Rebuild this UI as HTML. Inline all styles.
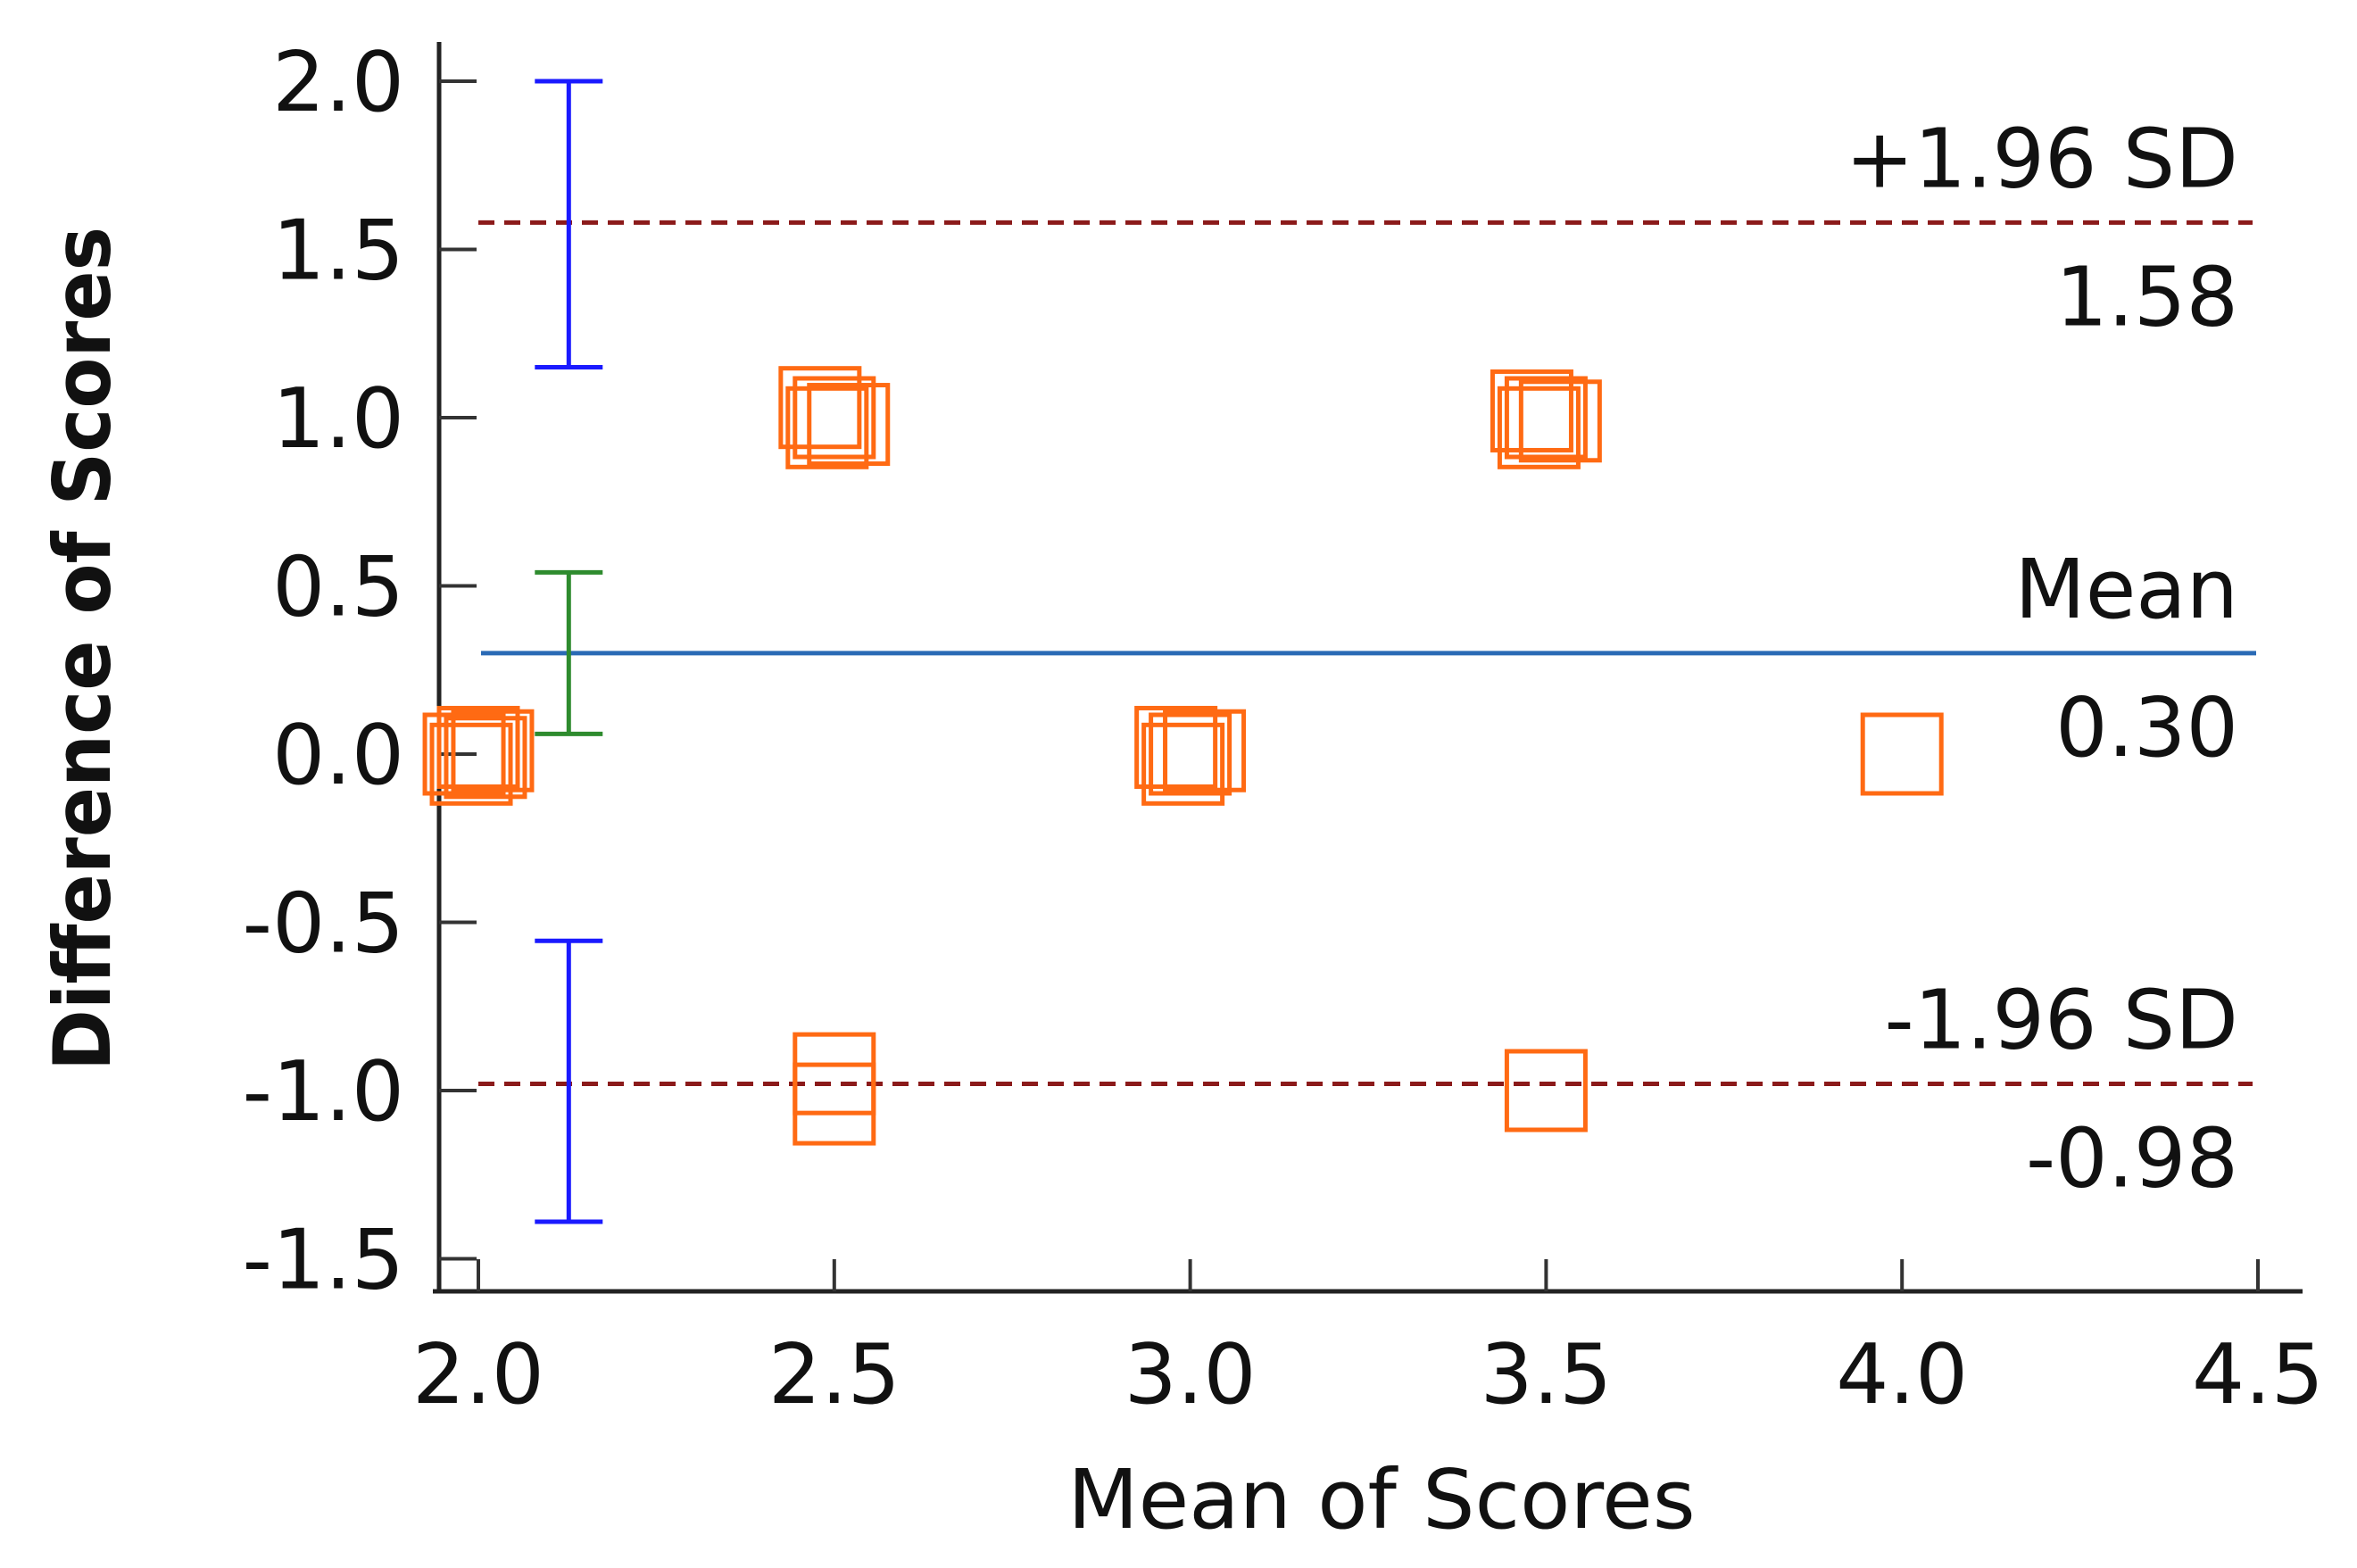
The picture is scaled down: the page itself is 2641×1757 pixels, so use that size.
<!DOCTYPE html>
<html><head><meta charset="utf-8">
<style>
html,body{margin:0;padding:0;background:#fff;}
svg{display:block;}
text{font-family:"DejaVu Sans","Liberation Sans",sans-serif;fill:#111;}
</style></head>
<body>
<svg id="chart" width="2641" height="1757" viewBox="0 0 2641 1757" xmlns="http://www.w3.org/2000/svg">
<rect width="2641" height="1757" fill="#fff"/>
<g id="axes"></g>
<g id="lines"></g>
<g id="bars"></g>
<g id="pts"></g>
<g id="labels"></g>
</svg>
<script>
const xTicks = [2.0, 2.5, 3.0, 3.5, 4.0, 4.5];
const xTickLabels = ["2.0","2.5","3.0","3.5","4.0","4.5"];
const yTicks = [2.0, 1.5, 1.0, 0.5, 0.0, -0.5, -1.0, -1.5];
const yTickLabels = ["2.0","1.5","1.0","0.5","0.0","-0.5","-1.0","-1.5"];
const pointX = [1.98,2.0,2.02,1.99,2.01, 2.48,2.5,2.52,2.49, 3.48,3.5,3.52,3.49, 2.98,3.0,3.02,2.99, 4.0, 2.5,2.5, 3.5];
const pointY = [0.0,0.02,0.01,-0.03,-0.01, 1.03,1.0,0.98,0.97, 1.02,1.0,0.99,0.97, 0.02,0.0,0.01,-0.03, 0.0, -0.95,-1.04, -1.0];
const meanDiff = 0.30;
const upperLoA = 1.58;
const lowerLoA = -0.98;
const ciX = 2.127;
const ciLow = [1.15, 0.06, -1.39];
const ciHigh = [2.0, 0.54, -0.555];
const ciNames = ["upper-loa-ci","mean-ci","lower-loa-ci"];
const ciColors = ["#1a1aff","#2e8b2e","#1a1aff"];

const NS="http://www.w3.org/2000/svg";
function X(v){return 536+(v-2.0)*797.6;}
function Y(v){return 91+(2.0-v)*377;}
function mk(tag,attrs,parent,txt){const e=document.createElementNS(NS,tag);for(const k in attrs)e.setAttribute(k,attrs[k]);if(txt!==undefined)e.textContent=txt;parent.appendChild(e);return e;}
const axes=document.getElementById('axes'),lines=document.getElementById('lines'),bars=document.getElementById('bars'),pts=document.getElementById('pts'),labels=document.getElementById('labels');
const AX=492, AY=1447;
let e;
e=mk('line',{x1:AX,y1:47,x2:AX,y2:AY,stroke:'#222','stroke-width':5},axes);


e=mk('line',{x1:485,y1:AY,x2:2580,y2:AY,stroke:'#222','stroke-width':5},axes);


yTicks.forEach((v,i)=>{
  const t=mk('line',{x1:AX,y1:Y(v),x2:AX+42,y2:Y(v),stroke:'#333','stroke-width':4},axes);
  
  
  const l=mk('text',{x:453,y:Y(v)+33,'text-anchor':'end','font-size':93},axes,yTickLabels[i]);
  
  
});
xTicks.forEach((v,i)=>{
  const t=mk('line',{x1:X(v),y1:AY,x2:X(v),y2:AY-36,stroke:'#333','stroke-width':4},axes);
  
  
  const l=mk('text',{x:X(v),y:1572,'text-anchor':'middle','font-size':93},axes,xTickLabels[i]);
  
  
});
e=mk('text',{x:1548,y:1712,'text-anchor':'middle','font-size':92},axes,'Mean of Scores');


e=mk('text',{x:0,y:0,'text-anchor':'middle','font-size':88,'font-weight':'bold',transform:'translate(123,727) rotate(-90)',textLength:946,lengthAdjust:'spacingAndGlyphs'},axes,'Difference of Scores');



e=mk('line',{x1:536,y1:Y(upperLoA),x2:2524,y2:Y(upperLoA),stroke:'#8b1a1a','stroke-width':5,'stroke-dasharray':'18 11'},lines);


e=mk('line',{x1:536,y1:Y(lowerLoA),x2:2524,y2:Y(lowerLoA),stroke:'#8b1a1a','stroke-width':5,'stroke-dasharray':'18 11'},lines);


e=mk('line',{x1:539,y1:Y(meanDiff),x2:2528,y2:Y(meanDiff),stroke:'#2a6ab5','stroke-width':5},lines);



ciLow.forEach((lo,i)=>{
  const g=mk('g',{stroke:ciColors[i],'stroke-width':5},bars);
  
  
  mk('line',{x1:X(ciX),y1:Y(ciHigh[i]),x2:X(ciX),y2:Y(lo)},g);
  mk('line',{x1:X(ciX)-38,y1:Y(ciHigh[i]),x2:X(ciX)+38,y2:Y(ciHigh[i])},g);
  mk('line',{x1:X(ciX)-38,y1:Y(lo),x2:X(ciX)+38,y2:Y(lo)},g);
});

const S=88;
pointX.forEach((v,i)=>{
  const r=mk('rect',{x:X(v)-S/2,y:Y(pointY[i])-S/2,width:S,height:S,fill:'none',stroke:'#ff6a13','stroke-width':5},pts);
  
  
});

const lab=[["+1.96 SD",Y(upperLoA)-40,"upper-loa-label"],[upperLoA.toFixed(2),Y(upperLoA)+115,"upper-loa-value"],["Mean",Y(meanDiff)-40,"mean-label"],[meanDiff.toFixed(2),Y(meanDiff)+115,"mean-value"],["-1.96 SD",Y(lowerLoA)-40,"lower-loa-label"],[lowerLoA.toFixed(2),Y(lowerLoA)+115,"lower-loa-value"]];
lab.forEach(a=>{
  const t=mk('text',{x:2508,y:a[1],'text-anchor':'end','font-size':92},labels,a[0]);
  
  
});
</script>
</body></html>
